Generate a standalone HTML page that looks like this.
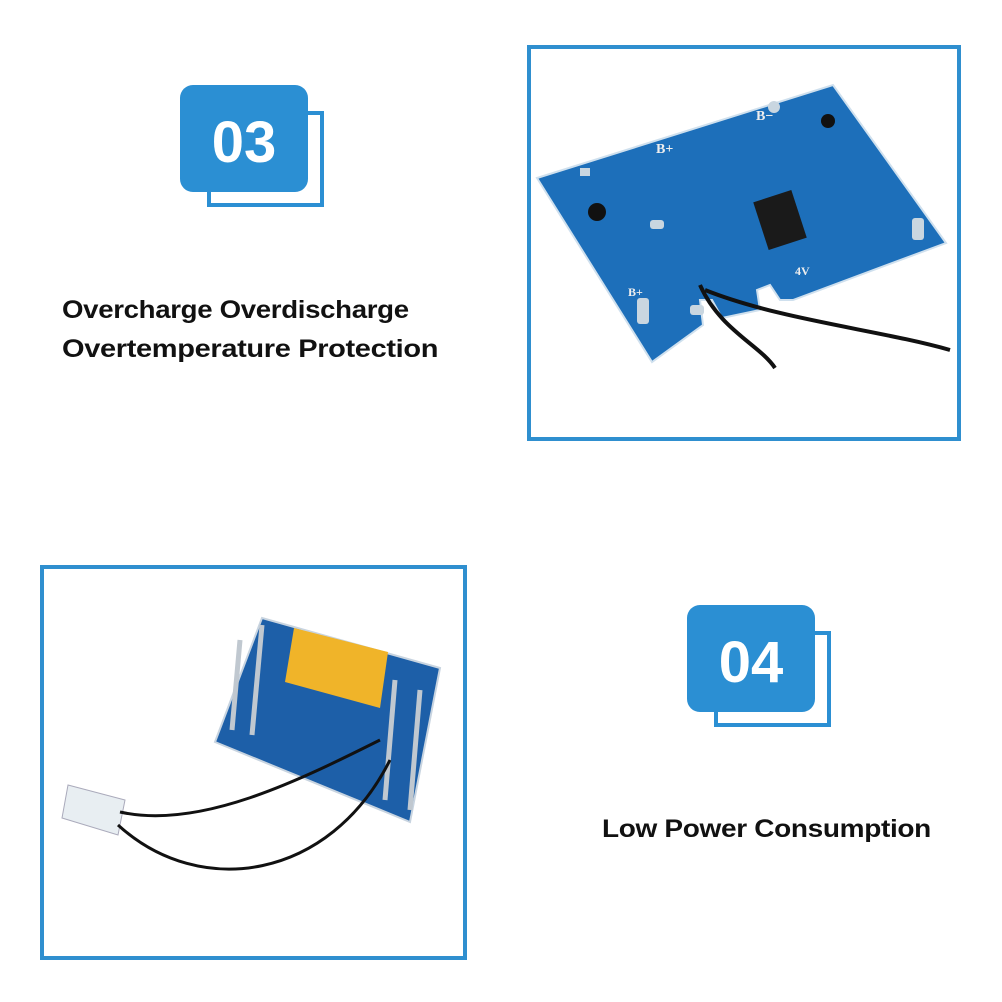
<!DOCTYPE html>
<html><head><style>
body{margin:0;width:1002px;height:1002px;background:#fff;position:relative;overflow:hidden;font-family:"Liberation Sans",sans-serif}
.t{position:absolute;font-weight:bold;font-size:25px;color:#111;letter-spacing:-0.3px;white-space:nowrap;transform-origin:0 0}
</style></head><body>
<svg width="1002" height="1002" style="position:absolute;left:0;top:0">
<rect x="209" y="113" width="113" height="92" fill="#fff" stroke="#2b8fd3" stroke-width="4"/>
<rect x="180" y="85" width="128" height="107" rx="13" fill="#2b8fd3"/>
<text x="244" y="162" text-anchor="middle" font-family="Liberation Sans" font-weight="bold" font-size="58" fill="#fff">03</text>
<rect x="716" y="633" width="113" height="92" fill="#fff" stroke="#2b8fd3" stroke-width="4"/>
<rect x="687" y="605" width="128" height="107" rx="13" fill="#2b8fd3"/>
<text x="751" y="682" text-anchor="middle" font-family="Liberation Sans" font-weight="bold" font-size="58" fill="#fff">04</text>
<rect x="529" y="47" width="430" height="392" fill="none" stroke="#2f8fcf" stroke-width="4"/>
<rect x="42" y="567" width="423" height="391" fill="none" stroke="#2f8fcf" stroke-width="4"/>
<polygon points="537,178 833,85 946,243 793,300 780,300 770,285 757,290 760,310 722,318 712,300 700,300 703,325 652,362" fill="#1d6fba" stroke="#cfe0ee" stroke-width="2"/>
<rect x="760" y="195" width="40" height="50" fill="#1a1a1a" transform="rotate(-18 780 220)"/>
<circle cx="597" cy="212" r="9" fill="#111"/>
<circle cx="828" cy="121" r="7" fill="#111"/>
<g fill="#c9d6e0">
<rect x="650" y="220" width="14" height="9" rx="3"/><rect x="690" y="305" width="14" height="10" rx="3"/>
<rect x="580" y="168" width="10" height="8"/><rect x="912" y="218" width="12" height="22" rx="3"/>
<rect x="637" y="298" width="12" height="26" rx="3"/><circle cx="774" cy="107" r="6"/>
</g>
<path d="M700 285 C720 330 760 345 775 368" stroke="#111" stroke-width="4" fill="none"/>
<path d="M705 290 C780 320 880 330 950 350" stroke="#111" stroke-width="4" fill="none"/>
<text x="656" y="153" font-size="14" font-weight="bold" fill="#eee" font-family="Liberation Serif">B+</text>
<text x="756" y="120" font-size="14" font-weight="bold" fill="#eee" font-family="Liberation Serif">B−</text>
<text x="628" y="296" font-size="12" font-weight="bold" fill="#eee" font-family="Liberation Serif">B+</text>
<text x="795" y="275" font-size="12" font-weight="bold" fill="#eee" font-family="Liberation Serif">4V</text>
<polygon points="262,618 440,668 410,822 215,742" fill="#1d5fa8" stroke="#c8d4e0" stroke-width="2"/>
<polygon points="294,628 388,652 380,708 285,682" fill="#f0b429"/>
<g stroke="#c0c8d0" stroke-width="5" fill="none">
<path d="M240 640 L232 730"/><path d="M262 625 L252 735"/>
<path d="M395 680 L385 800"/><path d="M420 690 L410 810"/>
</g>
<polygon points="68,785 125,800 118,835 62,818" fill="#e8eef2" stroke="#aab" stroke-width="1"/>
<path d="M120 812 C200 830 300 780 380 740" stroke="#111" stroke-width="3" fill="none"/>
<path d="M118 825 C200 900 330 880 390 760" stroke="#111" stroke-width="3" fill="none"/>
</svg>
<div class="t" style="left:62px;top:296px;transform:scaleX(1.105)">Overcharge Overdischarge</div>
<div class="t" style="left:62px;top:335px;transform:scaleX(1.16)">Overtemperature Protection</div>
<div class="t" style="left:602px;top:815px;transform:scaleX(1.12)">Low Power Consumption</div>
</body></html>
